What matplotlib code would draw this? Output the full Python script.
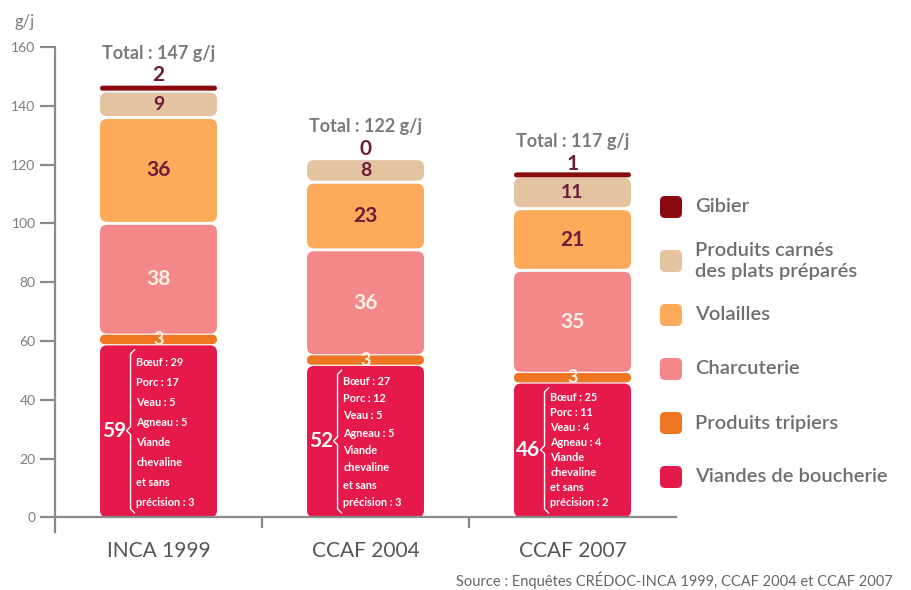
import matplotlib
matplotlib.use('Agg')
import matplotlib.pyplot as plt
from matplotlib.patches import FancyBboxPatch
from matplotlib.lines import Line2D

plt.rcParams['font.family'] = ['Lato', 'DejaVu Sans']

# ---------------- data ----------------
categories = ['INCA 1999', 'CCAF 2004', 'CCAF 2007']
series_names = ['Viandes de boucherie', 'Produits tripiers', 'Charcuterie',
                'Volailles', 'Produits carnés\ndes plats préparés', 'Gibier']
viandes = [59, 52, 46]
tripiers = [3, 3, 3]
charcuterie = [38, 36, 35]
volailles = [36, 23, 21]
carnes = [9, 8, 11]
gibier = [2, 0, 1]
boeuf = [29, 27, 25]
porc = [17, 12, 11]
veau = [5, 5, 4]
agneau = [5, 5, 4]
autres = [3, 3, 2]
y_ticks = [0, 20, 40, 60, 80, 100, 120, 140, 160]
unit = 'g/j'
source = 'Source : Enquêtes CRÉDOC-INCA 1999, CCAF 2004 et CCAF 2007'

series = [viandes, tripiers, charcuterie, volailles, carnes, gibier]
colors = ['#E6194B', '#EE7623', '#F4878A', '#FDAA5B', '#E4C3A1', '#8A0A10']
label_colors = ['white', '#FFF3E6', '#FFF3E6', '#6B1C3A', '#6B1C3A', '#6B1C3A']
label_sizes = [15, 13, 15, 15, 14, 15]
gray = '#8a8a8a'
text_gray = '#6e6e6e'

# ---------------- layout ----------------
W, H = 911, 590
fig = plt.figure(figsize=(W / 100, H / 100), dpi=100)
ax_left, ax_right, ax_top, ax_bot = 55, 676, 47, 532
ax = fig.add_axes([ax_left / W, 1 - ax_bot / H, (ax_right - ax_left) / W, (ax_bot - ax_top) / H])
xmin, xmax, ymin, ymax = -0.5, 2.5, -5, 160
ax.set_xlim(xmin, xmax)
ax.set_ylim(ymin, ymax)

xu = (xmax - xmin) / (ax_right - ax_left)   # x data units per pixel
yu = (ymax - ymin) / (ax_bot - ax_top)      # y data units per pixel
aspect = yu / xu

bar_w = 0.565
gap = 1.0
r_px = 7
min_h_px = 5  # thin segments stay visible

for i, cat in enumerate(categories):
    bottom = 0
    for s, vals in enumerate(series):
        v = vals[i]
        if v > 0:
            y0 = bottom + (gap / 2 if s > 0 else 0)
            y1 = bottom + v - gap / 2
            h = y1 - y0
            z = 2
            if h / yu < min_h_px or s == 1:
                want = max(min_h_px * yu, h + 1.2) if s == 1 else min_h_px * yu
                c = (y0 + y1) / 2
                y0, h = c - want / 2, want
                z = 3
            rp = min(r_px, (h / yu) / 2)
            p = FancyBboxPatch((i - bar_w / 2, y0), bar_w, h,
                               boxstyle=f"round,pad=0,rounding_size={rp * xu}",
                               mutation_aspect=aspect, fc=colors[s], ec='none', zorder=z)
            ax.add_patch(p)
        # labels
        if s == 0:
            ax.text(i - 0.213, bottom + v / 2, str(v), ha='center', va='center',
                    fontsize=label_sizes[s], fontweight='bold', color=label_colors[s], zorder=4)
        elif s == len(series) - 1:
            ax.text(i, bottom + v + 1.3, str(v), ha='center', va='baseline',
                    fontsize=label_sizes[s], fontweight='bold', color=label_colors[s], zorder=4)
        else:
            ax.text(i, bottom + v / 2, str(v), ha='center', va='center',
                    fontsize=label_sizes[s], fontweight='bold', color=label_colors[s], zorder=4)
        bottom += v
    total = bottom
    ax.text(i, total + 10.8, f"Total : {total} {unit}", ha='center', va='center',
            fontsize=13, fontweight='bold', color='#7a7a7a')

    # breakdown of "viandes de boucherie"
    v = viandes[i]
    lines = [f"Bœuf : {boeuf[i]}", f"Porc : {porc[i]}", f"Veau : {veau[i]}",
             f"Agneau : {agneau[i]}", "Viande", "chevaline", "et sans",
             f"précision : {autres[i]}"]
    first = v - 0.09 * v - 1
    last = 5.0
    step = (first - last) / (len(lines) - 1)
    for k, ln in enumerate(lines):
        ax.text(i - 0.108, first - k * step, ln, ha='left', va='center',
                fontsize=7.8, fontweight='bold', color='white', zorder=4)
    # brace
    bx = i - 0.135
    top_b, bot_b, mid = v - 2.0, 1.5, v / 2
    hk = 4 * xu
    ys = 4 * yu
    ax.add_line(Line2D([bx + hk, bx, bx, bx - hk, bx, bx, bx + hk],
                       [top_b, top_b - ys, mid + ys, mid, mid - ys, bot_b + ys, bot_b],
                       color='white', lw=1.0, zorder=4))

# axes styling
for sp in ['top', 'right']:
    ax.spines[sp].set_visible(False)
ax.spines['left'].set_color(gray)
ax.spines['left'].set_linewidth(1.6)
ax.spines['bottom'].set_position(('data', 0))
ax.spines['bottom'].set_color(gray)
ax.spines['bottom'].set_linewidth(1.6)

ax.set_yticks(y_ticks)
ax.set_yticklabels([str(t) for t in y_ticks])
ax.tick_params(axis='y', length=11, width=1.6, color=gray, labelsize=10,
               labelcolor='#7d7d7d', pad=3)
ax.set_xticks(range(len(categories)))
ax.set_xticklabels(categories)
ax.tick_params(axis='x', which='major', length=0, pad=17, labelsize=15, labelcolor='#555555')
ax.set_xticks([0.5, 1.5], minor=True)
ax.tick_params(axis='x', which='minor', length=8, width=1.6, color=gray, direction='out')

fig.text(25 / W, 1 - 22 / H, unit, ha='center', va='center', fontsize=12, color='#7d7d7d')
fig.text(893 / W, 1 - 580 / H, source, ha='right', va='center', fontsize=10.5, color='#666666')

# ---------------- legend ----------------
lg_left, lg_top = 650, 180
lax = fig.add_axes([lg_left / W, 1 - 500 / H, (W - lg_left) / W, (500 - lg_top) / H])
lax.set_xlim(0, W - lg_left)
lax.set_ylim(500 - lg_top, 0)
lax.axis('off')
for k, s in enumerate(reversed(range(len(series)))):
    yc = 207 - lg_top + k * 54
    lax.add_patch(FancyBboxPatch((10, yc - 11), 22, 22,
                                 boxstyle="round,pad=0,rounding_size=5",
                                 fc=colors[s], ec='none'))
    lax.text(45, yc, series_names[s], ha='left', va='center', fontsize=14.5,
             fontweight='semibold', color=text_gray, linespacing=1.35)

fig.savefig('out.png', dpi=100, facecolor='white')
